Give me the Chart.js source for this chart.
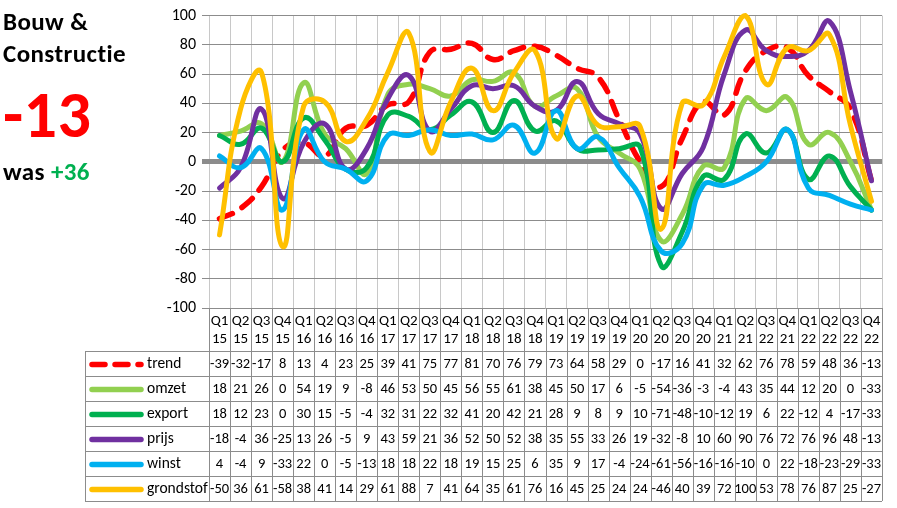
<!DOCTYPE html>
<html>
<head>
<meta charset="utf-8">
<script src="https://cdn.jsdelivr.net/npm/chart.js@4/dist/chart.umd.min.js"></script>
<style>
  body { margin: 0; background: #fff; }
</style>
</head>
<body>
<canvas id="myChart" width="897" height="508"></canvas>
<script>
const quarters = ['Q1','Q2','Q3','Q4','Q1','Q2','Q3','Q4','Q1','Q2','Q3','Q4','Q1','Q2','Q3','Q4',
  'Q1','Q2','Q3','Q4','Q1','Q2','Q3','Q4','Q1','Q2','Q3','Q4','Q1','Q2','Q3','Q4']
const years = ['15','15','15','15','16','16','16','16','17','17','17','17','18','18','18','18',
  '19','19','19','19','20','20','20','20','21','21','22','21','22','22','22','22']

const trend     = [-39,-32,-17,8,13,4,23,25,39,41,75,77,81,70,76,79,73,64,58,29,0,-17,16,41,32,62,76,78,59,48,36,-13]
const omzet     = [18,21,26,0,54,19,9,-8,46,53,50,45,56,55,61,38,45,50,17,6,-5,-54,-36,-3,-4,43,35,44,12,20,0,-33]
const exportS   = [18,12,23,0,30,15,-5,-4,32,31,22,32,41,20,42,21,28,9,8,9,10,-71,-48,-10,-12,19,6,22,-12,4,-17,-33]
const prijs     = [-18,-4,36,-25,13,26,-5,9,43,59,21,36,52,50,52,38,35,55,33,26,19,-32,-8,10,60,90,76,72,76,96,48,-13]
const winst     = [4,-4,9,-33,22,0,-5,-13,18,18,22,18,19,15,25,6,35,9,17,-4,-24,-61,-56,-16,-16,-10,0,22,-18,-23,-29,-33]
const grondstof = [-50,36,61,-58,38,41,14,29,61,88,7,41,64,35,61,76,16,45,25,24,24,-46,40,39,72,100,53,78,76,87,25,-27]

const seriesNames = ['trend','omzet','export','prijs','winst','grondstof']
const seriesData = [trend, omzet, exportS, prijs, winst, grondstof]
const seriesColors = ['#ff0000','#92d050','#00b050','#7030a0','#00b0f0','#ffc000']

const FONT = 'Carlito, Lato, sans-serif'
const TABLE_TOP = 351
const ROW_H = 25

// title block on the left
const titlePlugin = {
  id: 'sideTitle',
  afterDraw: chart => {
    const ctx = chart.ctx
    ctx.save()
    ctx.textAlign = 'left'
    ctx.textBaseline = 'alphabetic'
    ctx.letterSpacing = '0.4px' // also stops the "ti" ligature
    ctx.fillStyle = '#000'
    ctx.font = 'bold 25px ' + FONT
    ctx.fillText('Bouw &', 3, 30)
    ctx.fillText('Constructie', 3, 62)
    ctx.fillStyle = '#ff0000'
    ctx.font = 'bold 66px ' + FONT
    ctx.fillText('-13', 3, 137)
    ctx.fillStyle = '#000'
    ctx.font = 'bold 25px ' + FONT
    ctx.fillText('was ', 3, 180)
    const w = ctx.measureText('was ').width
    ctx.fillStyle = '#00b050'
    ctx.fillText('+36', 3 + w, 180)
    ctx.restore()
  }
}

const tablePlugin = {
  id: 'dataTable',
  afterDraw: chart => {
    const ctx = chart.ctx
    const area = chart.chartArea
    const x = chart.scales.x
    const n = quarters.length
    const colW = (area.right - area.left) / n
    const bottom = TABLE_TOP + ROW_H * seriesNames.length
    ctx.save()
    ctx.strokeStyle = '#8c8c8c'
    ctx.lineWidth = 1
    ctx.beginPath()
    for (let k = 0; k <= n; k++) {
      const px = Math.round(area.left + k * colW) + 0.5
      ctx.moveTo(px, area.bottom)
      ctx.lineTo(px, bottom)
    }
    ctx.moveTo(85.5, TABLE_TOP)
    ctx.lineTo(85.5, bottom)
    for (let r = 0; r <= seriesNames.length; r++) {
      const py = Math.round(TABLE_TOP + r * ROW_H) + 0.5
      ctx.moveTo(85, py)
      ctx.lineTo(area.right, py)
    }
    ctx.stroke()

    ctx.textBaseline = 'middle'
    seriesNames.forEach((name, r) => {
      const cy = TABLE_TOP + r * ROW_H + ROW_H / 2 + 1
      ctx.beginPath()
      ctx.strokeStyle = seriesColors[r]
      ctx.lineWidth = 5.5
      ctx.lineCap = 'round'
      ctx.setLineDash(r === 0 ? [13, 10] : [])
      ctx.moveTo(92, cy)
      ctx.lineTo(141, cy)
      ctx.stroke()
      ctx.setLineDash([])
      ctx.fillStyle = '#000'
      ctx.font = '15.5px ' + FONT
      ctx.textAlign = 'left'
      ctx.fillText(name, 147, cy)
      ctx.font = '14.5px ' + FONT
      ctx.textAlign = 'center'
      seriesData[r].forEach((v, i) => {
        ctx.fillText(String(v), x.getPixelForValue(i), cy)
      })
    })
    ctx.restore()
  }
}

const datasets = seriesNames.map((name, i) => ({
  label: name,
  data: seriesData[i],
  borderColor: seriesColors[i],
  backgroundColor: seriesColors[i],
  borderWidth: i === 0 ? 5.5 : 5,
  borderDash: i === 0 ? [14, 11] : [],
  borderCapStyle: 'round',
  pointRadius: 0,
  tension: 0.45,
  fill: false,
  clip: 6,
  order: seriesNames.length - i
}))

const config = {
  type: 'line',
  data: {
    labels: quarters.map((q, i) => [q, years[i]]),
    datasets: datasets
  },
  plugins: [tablePlugin, titlePlugin],
  options: {
    responsive: false,
    animation: false,
    layout: { padding: { top: 6, right: 15, bottom: 158, left: 0 } },
    plugins: { legend: { display: false }, tooltip: { enabled: false } },
    scales: {
      x: {
        offset: true,
        grid: { offset: true, color: '#c8c8c8', lineWidth: 1, drawTicks: false },
        border: { display: false },
        ticks: { color: '#000', font: { family: FONT, size: 15, lineHeight: 1.2 }, padding: 4, maxRotation: 0, autoSkip: false },
        afterFit: scale => { scale.height = 42 }
      },
      y: {
        min: -100,
        max: 100,
        ticks: { stepSize: 20, color: '#000', font: { family: FONT, size: 16 }, padding: 6 },
        grid: {
          color: '#8c8c8c',
          lineWidth: ctx => ctx.tick && ctx.tick.value === 0 ? 5 : 1,
          tickLength: 7
        },
        border: { display: false },
        afterFit: scale => { scale.width = 209 }
      }
    }
  }
}

const chart = new Chart(document.getElementById('myChart'), config)
</script>
</body>
</html>
